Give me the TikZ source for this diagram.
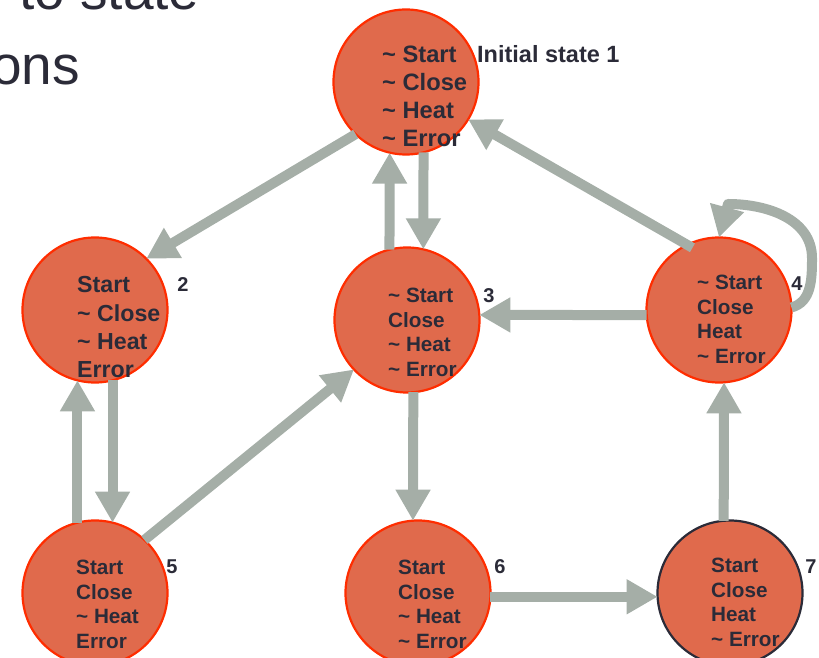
\documentclass[tikz,border=0pt]{standalone}
\usepackage{fontspec}
\setmainfont{Liberation Sans}
\usetikzlibrary{arrows.meta}
\definecolor{stfill}{RGB}{224,106,76}
\definecolor{stred}{RGB}{255,45,0}
\definecolor{stdark}{RGB}{43,43,56}
\definecolor{arrgray}{RGB}{165,174,167}
\newcommand\stlines[3]{\fontsize{#1}{#2}\selectfont\bfseries\begin{tabular}[t]{@{}l@{}}#3\end{tabular}}
\newcommand\ngt{\textasciitilde{} }
\begin{document}
\begin{tikzpicture}[x=1pt,y=1pt,
  state/.style={circle, minimum size=145pt, inner sep=0pt, outer sep=0pt, fill=stfill, draw=stred, line width=2.2pt},
  finalstate/.style={state, draw=stdark},
  trans/.style={draw=arrgray, line width=10pt, -{Triangle[width=33pt,length=31pt]}},
  lbl/.style={text=stdark, font=\fontsize{20}{20}\selectfont\bfseries, inner sep=0pt},
  txt/.style={text=stdark, inner sep=0pt, anchor=base west}]
\useasboundingbox (0,0) rectangle (819,658);
% title fragments
\node[txt, font=\fontsize{55}{55}\selectfont] (h1) at (19,648) {to state};
\node[txt, font=\fontsize{55}{55}\selectfont] (h2) at (-9,573) {ons};
% states
\node[state] (n1) at (406,576) {};
\node[state] (n2) at (95,348) {};
\node[state] (n3) at (407,338) {};
\node[state] (n4) at (719,348) {};
\node[state] (n5) at (95,65) {};
\node[state] (n6) at (418,65) {};
\node[finalstate] (n7) at (730,65) {};
% loop helper points
\coordinate (loopR) at (812,400);
\coordinate (loopE) at (728,454);
% transitions
\draw[trans] (n1.226) -- (n2.45);
\draw[trans, shorten <=-6pt] (n4.116) -- (n1.329);
\draw[trans] (n5.47) -- (n3.223);
\draw[trans] (n3.104) -- (n1.257);
\draw[trans] (n1.284) -- (n3.77);
\draw[trans] (n5.104) -- (n2.256);
\draw[trans] (n2.284) -- (n5.76);
\draw[trans] (n3.275) -- (n6.94);
\draw[trans] (n4.184) -- (n3.4);
\draw[trans] (n6.357) -- (n7.183);
\draw[trans] (n7.95) -- (n4.274);
\draw[trans, line join=round] (n4.2) to[out=15,in=-90] (loopR) to[out=90,in=0] (loopE) -- (n4.north);
% state texts
\node[txt] (t1) at (382,595) {\stlines{23.7}{27.7}{\ngt Start\\\ngt Close\\\ngt Heat\\\ngt Error}};
\node[txt, font=\fontsize{23.5}{24}\selectfont\bfseries] (init) at (477,595) {Initial state 1};
\node[txt] (t2) at (77,365) {\stlines{23.2}{28.3}{Start\\\ngt Close\\\ngt Heat\\Error}};
\node[txt] (t3) at (388,355) {\stlines{20.7}{24.4}{\ngt Start\\Close\\\ngt Heat\\\ngt Error}};
\node[txt] (t4) at (697,368) {\stlines{20.7}{24.4}{\ngt Start\\Close\\Heat\\\ngt Error}};
\node[txt] (t5) at (76,83) {\stlines{20.7}{24.5}{Start\\Close\\\ngt Heat\\Error}};
\node[txt] (t6) at (398,83) {\stlines{20.7}{24.5}{Start\\Close\\\ngt Heat\\\ngt Error}};
\node[txt] (t7) at (711,85) {\stlines{20.7}{24.5}{Start\\Close\\Heat\\\ngt Error}};
% number labels
\node[lbl] (l2) at (183,373) {2};
\node[lbl] (l3) at (489,362) {3};
\node[lbl] (l4) at (797,374) {4};
\node[lbl] (l5) at (172,91) {5};
\node[lbl] (l6) at (500,91) {6};
\node[lbl] (l7) at (811,91) {7};
\end{tikzpicture}
\end{document}
